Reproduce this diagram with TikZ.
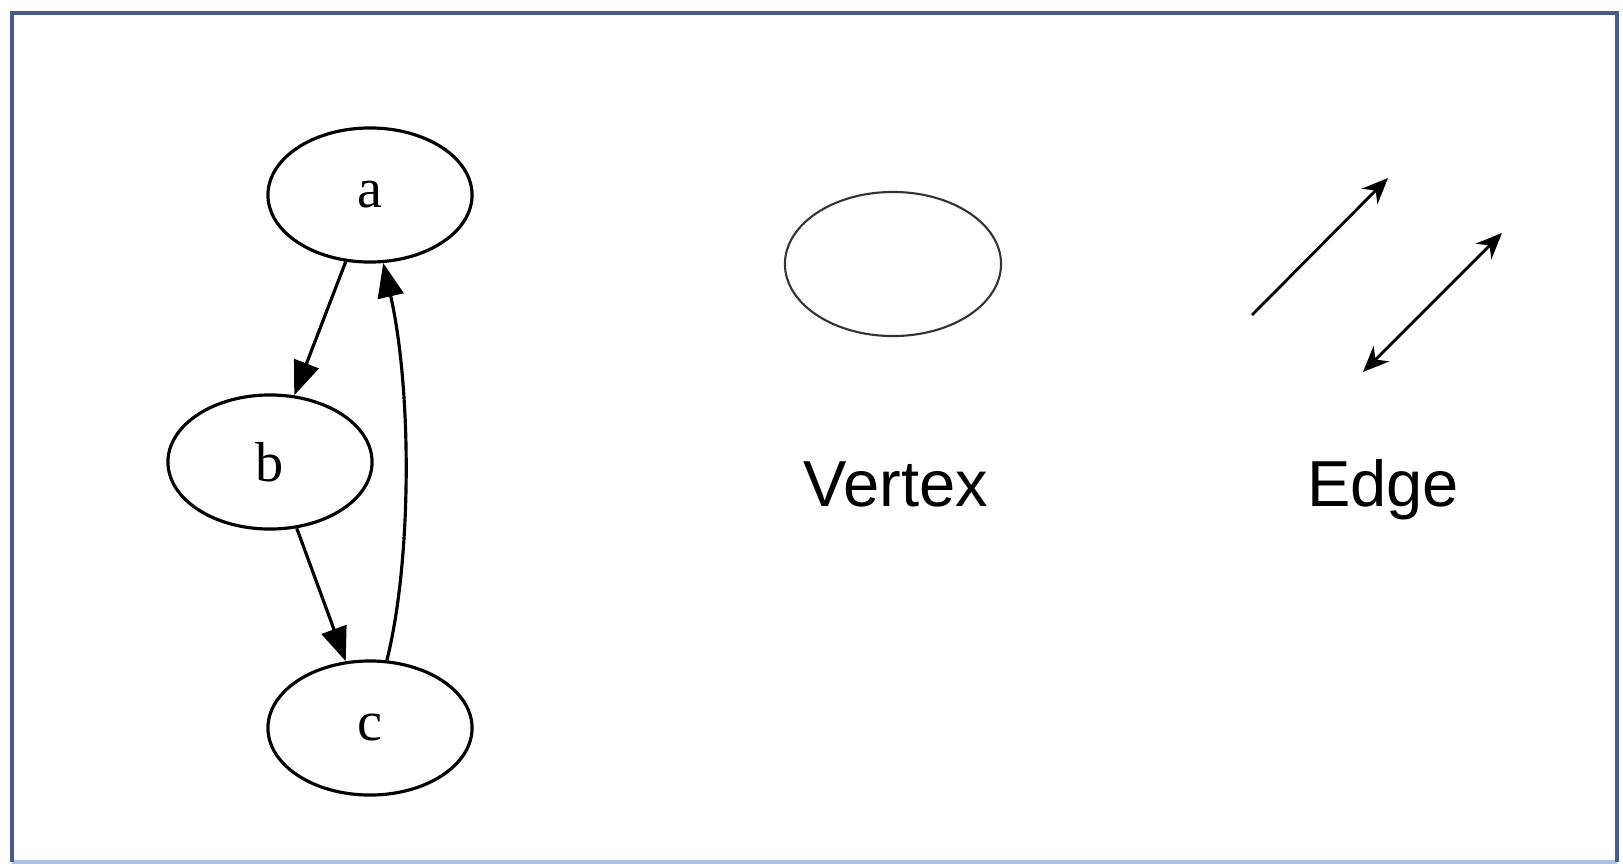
\documentclass[tikz,border=0pt]{standalone}
\usepackage{fontspec}
\setmainfont{Liberation Serif}
\newfontfamily\labelsans{Liberation Sans}
\usetikzlibrary{shapes.geometric,arrows.meta}
\definecolor{framedark}{HTML}{4B5A8C}
\definecolor{framelight}{HTML}{A9C1E2}
\tikzset{
  gnode/.style={ellipse, draw=black, line width=0.9pt, inner sep=0pt,
    minimum width=2.04cm, minimum height=1.34cm, font=\fontsize{16}{18}\selectfont},
  gedge/.style={line width=0.9pt, -{Triangle[length=0.34cm,width=0.26cm]}},
  legtip/.style={},
  legarrow/.style={line width=0.8pt, -{Stealth[length=0.26cm,width=0.22cm]}},
  legdouble/.style={line width=0.8pt, {Stealth[length=0.26cm,width=0.22cm]}-{Stealth[length=0.26cm,width=0.22cm]}},
  legtext/.style={font=\labelsans\fontsize{18.5}{20}\selectfont, anchor=base},
}
\begin{document}
\begin{tikzpicture}[x=0.01cm,y=-0.01cm]
\useasboundingbox (0,0) rectangle (1623,866);
\fill[white] (0,0) rectangle (1623,866);
% frame
\draw[framelight, line width=1.1pt] (12,862) -- (1617,862);
\draw[framedark, line width=1.2pt] (12,862) -- (12,13) -- (1617,13) -- (1617,862);
% graph
\node[gnode] (a) at (370,195) {a};
\node[gnode] (b) at (270,462) {b};
\node[gnode] (c) at (370,728) {c};
\draw[gedge] (a.250) -- (b.70);
\draw[gedge] (b.292) -- (c.110);
\draw[gedge] (c.76) .. controls (412,560) and (412,390) .. (a.281);
% legend: vertex
\node[ellipse, draw=black!80, line width=0.6pt, minimum width=2.16cm, minimum height=1.44cm] (v) at (893,264) {};
\node[legtext] (vt) at (896,506) {Vertex};
% legend: edge
\coordinate (e1s) at (1252,315);
\coordinate (e1e) at (1388,178);
\coordinate (e2s) at (1363,372);
\coordinate (e2e) at (1502,233);
\draw[legarrow] (e1s) -- (e1e);
\draw[legdouble] (e2s) -- (e2e);
\node[legtext] (et) at (1383,506) {Edge};
\end{tikzpicture}
\end{document}
